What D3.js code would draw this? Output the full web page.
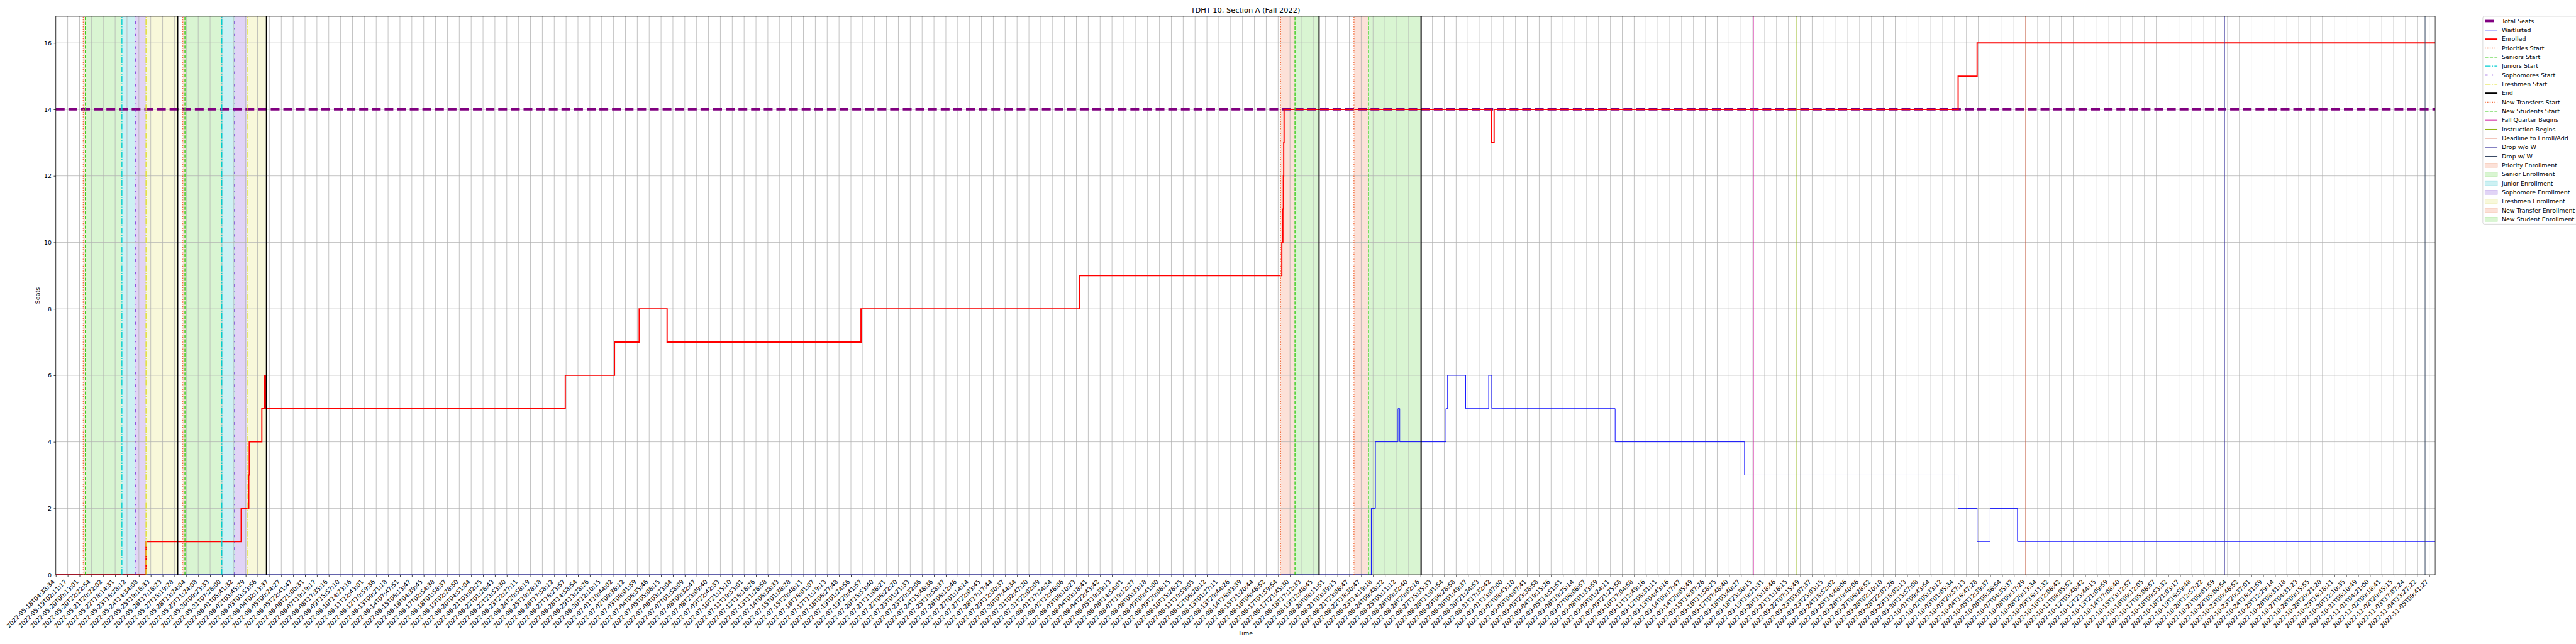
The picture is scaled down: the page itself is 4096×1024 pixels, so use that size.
<!DOCTYPE html>
<html><head><meta charset="utf-8">
<script src="https://cdn.jsdelivr.net/npm/d3@7"></script>
<style>html,body{margin:0;padding:0;background:#fff;} svg{display:block;}</style>
</head><body>
<script>
// ---------------- DATA ----------------
const tickLabels = [
"2022-05-18T04:38:34","2022-05-19T02:11:17","2022-05-20T00:13:01","2022-05-20T22:22:54","2022-05-21T20:22:02",
"2022-05-22T18:14:31","2022-05-23T16:28:12","2022-05-24T14:34:08","2022-05-25T19:16:33","2022-05-26T17:16:23",
"2022-05-27T15:19:28","2022-05-28T13:24:04","2022-05-29T11:24:08","2022-05-30T09:23:33","2022-05-31T07:26:00",
"2022-06-01T05:41:32","2022-06-02T03:45:29","2022-06-03T03:53:56","2022-06-04T02:13:37","2022-06-05T00:24:27",
"2022-06-05T22:41:47","2022-06-06T21:00:31","2022-06-07T19:19:17","2022-06-08T17:35:16","2022-06-09T15:57:10",
"2022-06-10T14:23:16","2022-06-11T12:43:01","2022-06-12T10:59:36","2022-06-13T09:21:18","2022-06-14T07:47:51",
"2022-06-15T06:13:47","2022-06-16T04:39:45","2022-06-17T02:54:38","2022-06-18T01:58:37","2022-06-19T02:28:50",
"2022-06-20T04:51:04","2022-06-21T03:02:25","2022-06-22T01:26:43","2022-06-22T23:53:30","2022-06-23T22:27:11",
"2022-06-24T20:58:19","2022-06-25T19:28:18","2022-06-26T17:58:12","2022-06-27T16:23:57","2022-06-28T14:58:54",
"2022-06-29T13:28:26","2022-06-30T12:10:15","2022-07-01T10:44:02","2022-07-02T09:36:12","2022-07-03T08:01:59",
"2022-07-04T06:35:46","2022-07-05T05:06:15","2022-07-06T03:23:04","2022-07-07T01:58:09","2022-07-08T00:32:47",
"2022-07-08T23:09:40","2022-07-09T22:42:33","2022-07-10T21:15:10","2022-07-11T19:53:01","2022-07-12T16:16:26",
"2022-07-13T11:26:58","2022-07-14T06:38:33","2022-07-15T01:38:28","2022-07-15T20:48:11","2022-07-16T16:01:07",
"2022-07-17T11:19:13","2022-07-18T06:27:48","2022-07-19T01:24:56","2022-07-19T20:41:57","2022-07-20T15:53:40",
"2022-07-21T11:06:21","2022-07-22T06:22:20","2022-07-23T01:21:33","2022-07-23T20:32:06","2022-07-24T15:46:36",
"2022-07-25T10:58:37","2022-07-26T06:12:46","2022-07-27T01:14:14","2022-07-27T22:03:45","2022-07-28T17:17:44",
"2022-07-29T12:30:37","2022-07-30T07:44:34","2022-07-31T02:47:20","2022-07-31T22:02:09","2022-08-01T17:24:24",
"2022-08-02T12:46:06","2022-08-03T08:10:23","2022-08-04T03:18:41","2022-08-04T22:43:42","2022-08-05T19:39:13",
"2022-08-06T14:54:01","2022-08-07T10:12:27","2022-08-08T05:33:18","2022-08-09T00:41:00","2022-08-09T20:06:15",
"2022-08-10T15:26:25","2022-08-11T10:59:05","2022-08-12T06:20:12","2022-08-13T01:27:11","2022-08-13T20:44:26",
"2022-08-14T16:03:39","2022-08-15T11:20:44","2022-08-16T06:46:52","2022-08-17T01:59:54","2022-08-17T21:45:30",
"2022-08-18T17:12:33","2022-08-19T12:48:45","2022-08-20T08:11:51","2022-08-21T03:39:15","2022-08-21T23:06:47",
"2022-08-22T18:30:47","2022-08-23T14:19:18","2022-08-24T09:48:22","2022-08-25T05:11:12","2022-08-26T00:32:40",
"2022-08-26T20:02:16","2022-08-27T15:35:33","2022-08-28T11:01:54","2022-08-29T06:28:58","2022-08-30T01:49:37",
"2022-08-30T21:24:53","2022-08-31T17:32:42","2022-09-01T13:07:00","2022-09-02T08:43:10","2022-09-03T04:07:41",
"2022-09-03T23:38:58","2022-09-04T19:15:26","2022-09-05T14:51:51","2022-09-06T10:25:14","2022-09-07T06:06:57",
"2022-09-08T01:33:59","2022-09-09T01:24:11","2022-09-09T21:25:58","2022-09-10T17:04:58","2022-09-11T12:49:16",
"2022-09-12T08:31:11","2022-09-13T04:43:16","2022-09-14T00:17:47","2022-09-14T20:05:49","2022-09-15T16:07:26",
"2022-09-16T11:58:25","2022-09-17T07:48:40","2022-09-18T03:40:27","2022-09-18T23:30:15","2022-09-19T19:21:31",
"2022-09-20T15:18:46","2022-09-21T11:16:15","2022-09-22T07:15:49","2022-09-23T03:07:37","2022-09-23T23:03:15",
"2022-09-24T18:52:02","2022-09-25T14:48:06","2022-09-26T10:40:06","2022-09-27T06:28:52","2022-09-28T02:10:10",
"2022-09-28T22:07:26","2022-09-29T18:02:13","2022-09-30T13:57:08","2022-10-01T09:43:54","2022-10-02T05:33:12",
"2022-10-03T01:05:34","2022-10-03T20:57:13","2022-10-04T16:47:28","2022-10-05T12:39:37","2022-10-06T08:36:54",
"2022-10-07T04:35:37","2022-10-08T00:17:29","2022-10-08T20:13:34","2022-10-09T16:11:32","2022-10-10T12:06:42",
"2022-10-11T08:05:52","2022-10-12T03:48:42","2022-10-12T23:44:15","2022-10-13T21:09:59","2022-10-14T17:08:40",
"2022-10-15T13:12:57","2022-10-16T09:12:05","2022-10-17T05:06:57","2022-10-18T00:53:32","2022-10-18T21:03:17",
"2022-10-19T16:59:48","2022-10-20T12:57:22","2022-10-21T09:01:59","2022-10-22T05:00:54","2022-10-23T00:46:52",
"2022-10-23T20:37:01","2022-10-24T16:31:59","2022-10-25T12:29:14","2022-10-26T08:31:18","2022-10-27T04:31:23",
"2022-10-28T00:15:55","2022-10-28T20:21:20","2022-10-29T16:18:11","2022-10-30T12:10:35","2022-10-31T08:10:49",
"2022-11-01T04:21:00","2022-11-02T00:18:41","2022-11-02T20:45:15","2022-11-03T17:07:24","2022-11-04T13:27:22",
"2022-11-05T09:41:27"
];
const xDomainEnd = 200.5;            // position of last sample, in tick-index units
const yTickValues = [0, 2, 4, 6, 8, 10, 12, 14, 16];
const yMax = 16.8;
const totalSeats = 14;

// step series: change points (tick-index units) and the values that hold from there
const enrolledX = [0, 7.6, 15.62, 16.26, 16.3, 17.36, 17.6, 17.66, 42.93, 47.08, 49.16, 51.51, 67.85, 86.26,
                   103.31, 103.4, 103.44, 103.47, 103.5, 121.0, 121.2, 160.3, 161.9, 200.5];
const enrolledY = [0, 1, 2, 3, 4, 5, 6, 5, 6, 7, 8, 7, 8, 9,
                   10, 11, 12, 13, 14, 13, 14, 15, 16, 16];
const waitlistedX = [0, 110.85, 111.2, 113.1, 113.25, 117.14, 117.28, 118.8, 120.74, 121.0, 131.4, 142.3,
                     160.3, 161.9, 163.0, 165.3, 200.5];
const waitlistedY = [0, 2, 4, 5, 4, 5, 6, 5, 6, 5, 4, 3, 2, 1, 2, 1, 1];

// event markers (tick-index units)
const prioritiesStart   = [2.31, 10.70];
const seniorsStart      = [2.49, 10.88];
const juniorsStart      = [5.57, 13.99];
const sophomoresStart   = [6.69, 15.07];
const freshmenStart     = [7.60, 16.12];
const endMarks          = [10.27, 17.75, 106.45, 115.05];
const newTransfersStart = [103.21, 109.39];
const newStudentsStart  = [104.42, 110.61];
const fallQuarterBegins = [143.05];
const instructionBegins = [146.65];
const deadlineAdd       = [166.0];
const dropNoW           = [182.75];
const dropW             = [199.65];

// shaded periods: [start, end] pairs
const priorityPeriods    = [[2.31, 2.49], [10.70, 10.88]];
const seniorPeriods      = [[2.49, 5.57], [10.88, 13.99]];
const juniorPeriods      = [[5.57, 6.69], [13.99, 15.07]];
const sophomorePeriods   = [[6.69, 7.60], [15.07, 16.12]];
const freshmenPeriods    = [[7.60, 10.27], [16.12, 17.75]];
const newTransferPeriods = [[103.21, 104.42], [109.39, 110.61]];
const newStudentPeriods  = [[104.42, 106.45], [110.61, 115.05]];

const titleText = "TDHT 10, Section A (Fall 2022)";

// ---------------- LAYOUT / STYLE ----------------
const W = 4096, H = 1024, S = 4096 / 6000;
const PT = 100 / 72 * S;      // px per point
const FS = 10 * PT;           // 10pt font
const FONT = "DejaVu Sans";
const plot = {left: 130 * S, right: 5672 * S, top: 38 * S, bottom: 1339 * S};

const x = d3.scaleLinear().domain([0, xDomainEnd]).range([plot.left, plot.right]);
const y = d3.scaleLinear().domain([0, yMax]).range([plot.bottom, plot.top]);

const dash = (arr, lw) => arr ? arr.map(v => v * lw * PT).join(",") : null;

const svg = d3.select("body").append("svg").attr("width", W).attr("height", H)
  .style("font-family", FONT);
svg.append("rect").attr("width", W).attr("height", H).attr("fill", "#fff");

svg.append("defs").append("clipPath").attr("id", "clip")
  .append("rect").attr("x", plot.left).attr("y", plot.top)
  .attr("width", plot.right - plot.left).attr("height", plot.bottom - plot.top);

const gPlot = svg.append("g").attr("clip-path", "url(#clip)");

// shaded spans
const spanDefs = [
  {name: "Priority Enrollment",     periods: priorityPeriods,    fill: "#fce1d8", edge: "#f5c6b3"},
  {name: "Senior Enrollment",       periods: seniorPeriods,      fill: "#d9f5d2", edge: "#bcebb0"},
  {name: "Junior Enrollment",       periods: juniorPeriods,      fill: "#cdf1f3", edge: "#a6e5e8"},
  {name: "Sophomore Enrollment",    periods: sophomorePeriods,   fill: "#e1d4f6", edge: "#c9b3ee"},
  {name: "Freshmen Enrollment",     periods: freshmenPeriods,    fill: "#f8f8da", edge: "#eeeeb8"},
  {name: "New Transfer Enrollment", periods: newTransferPeriods, fill: "#fce1d8", edge: "#f5c6b3"},
  {name: "New Student Enrollment",  periods: newStudentPeriods,  fill: "#d9f5d2", edge: "#bcebb0"}
];
spanDefs.forEach(s => {
  gPlot.selectAll(null).data(s.periods).enter().append("rect")
    .attr("x", d => x(d[0])).attr("width", d => x(d[1]) - x(d[0]))
    .attr("y", plot.top).attr("height", plot.bottom - plot.top)
    .attr("fill", s.fill);
});

// grid
const gridW = 0.8 * PT;
gPlot.selectAll(null).data(d3.range(tickLabels.length)).enter().append("line")
  .attr("x1", d => x(d)).attr("x2", d => x(d)).attr("y1", plot.top).attr("y2", plot.bottom)
  .attr("stroke", "#b0b0b0").attr("stroke-width", gridW);
gPlot.selectAll(null).data(yTickValues).enter().append("line")
  .attr("y1", d => y(d)).attr("y2", d => y(d)).attr("x1", plot.left).attr("x2", plot.right)
  .attr("stroke", "#b0b0b0").attr("stroke-width", gridW);

// line styles
const lineStyles = {
  total:      {color: "#800080", lw: 4,   dash: [3.7, 1.6]},
  wait:       {color: "#0000ff", lw: 1,   dash: null},
  enrolled:   {color: "#ff0000", lw: 2,   dash: null},
  priorities: {color: "#f26b3a", lw: 1.5, dash: [1, 1.65]},
  seniors:    {color: "#3ccc1e", lw: 1.5, dash: [3.7, 1.6]},
  juniors:    {color: "#00ced1", lw: 1.5, dash: [6.4, 1.6, 1, 1.6]},
  sophomores: {color: "#6a1fd4", lw: 1.5, dash: [3, 5, 1, 5]},
  freshmen:   {color: "#e0e030", lw: 1.5, dash: [6.4, 1.6, 1, 1.6]},
  end:        {color: "#000000", lw: 2,   dash: null},
  fall:       {color: "#cc1199", lw: 1,   dash: null},
  instr:      {color: "#88b000", lw: 1,   dash: null},
  deadline:   {color: "#d0401c", lw: 1,   dash: null},
  dropNoW:    {color: "#35309a", lw: 1,   dash: null},
  dropW:      {color: "#2c3e5a", lw: 1,   dash: null}
};

// total seats
const ts = lineStyles.total;
gPlot.append("line").attr("x1", plot.left).attr("x2", plot.right)
  .attr("y1", y(totalSeats)).attr("y2", y(totalSeats))
  .attr("stroke", ts.color).attr("stroke-width", ts.lw * PT)
  .attr("stroke-dasharray", dash(ts.dash, ts.lw));

// step lines
const stepLine = d3.line().x(d => x(d[0])).y(d => y(d[1])).curve(d3.curveStepAfter);
gPlot.append("path").datum(d3.zip(waitlistedX, waitlistedY)).attr("d", stepLine)
  .attr("fill", "none").attr("stroke", lineStyles.wait.color).attr("stroke-width", lineStyles.wait.lw * PT);
gPlot.append("path").datum(d3.zip(enrolledX, enrolledY)).attr("d", stepLine)
  .attr("fill", "none").attr("stroke", lineStyles.enrolled.color).attr("stroke-width", lineStyles.enrolled.lw * PT)
  .attr("stroke-linejoin", "miter");

// vertical markers
const markerDefs = [
  {name: "Priorities Start",      data: prioritiesStart,   st: lineStyles.priorities},
  {name: "Seniors Start",         data: seniorsStart,      st: lineStyles.seniors},
  {name: "Juniors Start",         data: juniorsStart,      st: lineStyles.juniors},
  {name: "Sophomores Start",      data: sophomoresStart,   st: lineStyles.sophomores},
  {name: "Freshmen Start",        data: freshmenStart,     st: lineStyles.freshmen},
  {name: "End",                   data: endMarks,          st: lineStyles.end},
  {name: "New Transfers Start",   data: newTransfersStart, st: lineStyles.priorities},
  {name: "New Students Start",    data: newStudentsStart,  st: lineStyles.seniors},
  {name: "Fall Quarter Begins",   data: fallQuarterBegins, st: lineStyles.fall},
  {name: "Instruction Begins",    data: instructionBegins, st: lineStyles.instr},
  {name: "Deadline to Enroll/Add",data: deadlineAdd,       st: lineStyles.deadline},
  {name: "Drop w/o W",            data: dropNoW,           st: lineStyles.dropNoW},
  {name: "Drop w/ W",             data: dropW,             st: lineStyles.dropW}
];
markerDefs.forEach(m => {
  gPlot.selectAll(null).data(m.data).enter().append("line")
    .attr("x1", d => x(d)).attr("x2", d => x(d)).attr("y1", plot.bottom).attr("y2", plot.top)
    .attr("stroke", m.st.color).attr("stroke-width", m.st.lw * PT)
    .attr("stroke-dasharray", dash(m.st.dash, m.st.lw));
});

// axes
const axW = 0.8 * PT;
const xAxis = d3.axisBottom(x).tickValues(d3.range(tickLabels.length))
  .tickFormat(i => tickLabels[i]).tickSize(3.5 * PT).tickSizeOuter(0);
const gx = svg.append("g").attr("transform", `translate(0,${plot.bottom})`).call(xAxis);
gx.select(".domain").remove();
gx.selectAll(".tick line").attr("stroke", "#000").attr("stroke-width", axW);
const asc = 0.76 * FS, desc = 0.24 * FS, pad = 7 * PT;
gx.selectAll(".tick text")
  .attr("x", 0).attr("y", 0).attr("dy", null)
  .attr("text-anchor", "end")
  .attr("transform", `translate(${-0.707 * desc},${pad + 0.707 * asc}) rotate(-45)`)
  .attr("font-size", FS).attr("font-family", FONT).attr("fill", "#000");

const yAxis = d3.axisLeft(y).tickValues(yTickValues).tickSize(3.5 * PT).tickPadding(3.5 * PT).tickSizeOuter(0);
const gy = svg.append("g").attr("transform", `translate(${plot.left},0)`).call(yAxis);
gy.select(".domain").remove();
gy.selectAll(".tick line").attr("stroke", "#000").attr("stroke-width", axW);
gy.selectAll(".tick text").attr("font-size", FS).attr("font-family", FONT).attr("fill", "#000");

// frame
svg.append("rect").attr("x", plot.left).attr("y", plot.top)
  .attr("width", plot.right - plot.left).attr("height", plot.bottom - plot.top)
  .attr("fill", "none").attr("stroke", "#000").attr("stroke-width", axW);

// title & labels
svg.append("text").attr("x", (plot.left + plot.right) / 2).attr("y", plot.top - 6 * PT)
  .attr("text-anchor", "middle").attr("font-size", 12 * PT).text(titleText);
svg.append("text").attr("x", (plot.left + plot.right) / 2).attr("y", 1479 * S)
  .attr("text-anchor", "middle").attr("font-size", FS).text("Time");
svg.append("text").attr("transform", `translate(${63},${(plot.top + plot.bottom) / 2}) rotate(-90)`)
  .attr("text-anchor", "middle").attr("font-size", FS).text("Seats");

// legend
const lg = {left: 5783 * S, top: 38 * S, row0: 49 * S, step: 21 * S,
            hx0: 5788 * S, hx1: 5817 * S, tx: 5827 * S};
const legendItems = [
  {label: "Total Seats", type: "line", st: lineStyles.total},
  {label: "Waitlisted",  type: "line", st: lineStyles.wait},
  {label: "Enrolled",    type: "line", st: lineStyles.enrolled},
  ...markerDefs.map(m => ({label: m.name, type: "line", st: m.st})),
  ...spanDefs.map(s => ({label: s.name, type: "patch", fill: s.fill, edge: s.edge}))
];
const lgBottom = lg.row0 + (legendItems.length - 1) * lg.step + 11 * S;
svg.append("rect").attr("x", lg.left).attr("y", lg.top)
  .attr("width", 400).attr("height", lgBottom - lg.top).attr("rx", 2.5).attr("ry", 2.5)
  .attr("fill", "#fff").attr("fill-opacity", 0.8).attr("stroke", "#cccccc").attr("stroke-width", axW);
const gl = svg.append("g");
legendItems.forEach((it, i) => {
  const cy = lg.row0 + i * lg.step;
  if (it.type === "line") {
    gl.append("line").attr("x1", lg.hx0).attr("x2", lg.hx1).attr("y1", cy).attr("y2", cy)
      .attr("stroke", it.st.color).attr("stroke-width", it.st.lw * PT)
      .attr("stroke-dasharray", dash(it.st.dash, it.st.lw));
  } else {
    gl.append("rect").attr("x", lg.hx0).attr("y", cy - 0.35 * FS).attr("width", lg.hx1 - lg.hx0)
      .attr("height", 0.7 * FS).attr("fill", it.fill).attr("stroke", it.edge).attr("stroke-width", 0.7);
  }
  gl.append("text").attr("x", lg.tx).attr("y", cy).attr("dy", "0.35em")
    .attr("font-size", FS).text(it.label);
});
</script>
</body></html>
